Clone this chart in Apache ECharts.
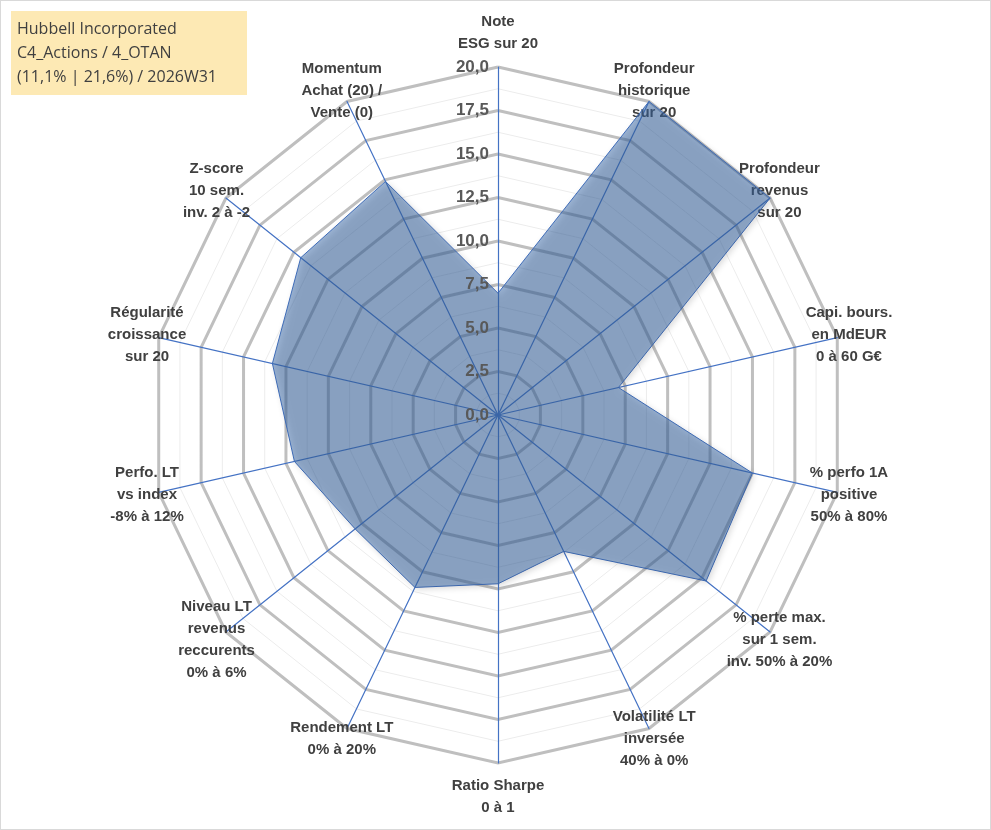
<!DOCTYPE html>
<html>
<head>
<meta charset="utf-8">
<script src="https://cdn.jsdelivr.net/npm/echarts@6/dist/echarts.min.js"></script>
<style>
  html, body { margin: 0; padding: 0; background: #fff; }
  #main { width: 989px; height: 828px; border: 1px solid #d9d9d9; }
</style>
</head>
<body>
<div id="main"></div>
<script>
// libellés des axes (sens horaire depuis le haut)
const axes = [
  'Note\nESG sur 20',
  'Profondeur\nhistorique\nsur 20',
  'Profondeur\nrevenus\nsur 20',
  'Capi. bours.\nen MdEUR\n0 à 60 G€',
  '% perfo 1A\npositive\n50% à 80%',
  '% perte max.\nsur 1 sem.\ninv. 50% à 20%',
  'Volatilité LT\ninversée\n40% à 0%',
  'Ratio Sharpe\n0 à 1',
  'Rendement LT\n0% à 20%',
  'Niveau LT\nrevenus\nreccurents\n0% à 6%',
  'Perfo. LT\nvs index\n-8% à 12%',
  'Régularité\ncroissance\nsur 20',
  'Z-score\n10 sem.\ninv. 2 à -2',
  'Momentum\nAchat (20) /\nVente (0)'
]
// notes
const scores = [7, 20, 20, 7.1, 15, 15.3, 8.7, 9.7, 11, 10.5, 12, 13.3, 14.5, 14.9]
const maxScore = 20
const tickStep = 2.5

const cx = 497, cy = 414, R = 348

// ECharts tourne dans le sens anti-horaire : on inverse l'ordre après le premier axe
const cw = arr => [arr[0]].concat(arr.slice(1).reverse())

var myChart = echarts.init(document.getElementById('main'))
var option = {
  animation: false,
  graphic: [{
    type: 'group', left: 10, top: 10,
    children: [
      { type: 'rect', shape: { x: 0, y: 0, width: 236, height: 84 }, style: { fill: '#fde9b4' } },
      { type: 'text', style: { x: 6, y: 6, text: 'Hubbell Incorporated\nC4_Actions / 4_OTAN\n(11,1% | 21,6%) / 2026W31',
        font: '16px "Open Sans", sans-serif', fill: '#404040', lineHeight: 24 } }
    ]
  }],
  // axe des graduations le long de la branche "Note"
  grid: { left: cx - 1, width: 1, top: cy - R, height: R },
  xAxis: { type: 'value', show: false },
  yAxis: {
    type: 'value', min: 0, max: maxScore, interval: tickStep, z: 5,
    axisLine: { show: false }, axisTick: { show: false }, splitLine: { show: false },
    axisLabel: { margin: 8, color: '#595959', fontSize: 17, fontWeight: 'bold', fontFamily: 'Liberation Sans',
      formatter: v => v.toFixed(1).replace('.', ',') }
  },
  radar: [{
    center: [cx, cy], radius: R, startAngle: 90, shape: 'polygon', splitNumber: 16,
    indicator: axes.map(n => ({ name: '', max: maxScore })),
    axisName: { show: false },
    axisLine: { show: false },
    splitLine: { lineStyle: { color: '#ececec', width: 1 } },
    splitArea: { show: false }
  }, {
    center: [cx, cy], radius: R, startAngle: 90, shape: 'polygon', splitNumber: 8,
    indicator: cw(axes).map(n => ({ name: n, max: maxScore })),
    nameGap: 12,
    axisName: { color: '#404040', fontSize: 15, fontWeight: 'bold', fontFamily: 'Liberation Sans', lineHeight: 22, align: 'center' },
    axisLine: { lineStyle: { color: '#4472c4', width: 1.2 } },
    splitLine: { lineStyle: { color: '#bfbfbf', width: 3 } },
    splitArea: { show: false }
  }],
  series: [{
    type: 'radar', radarIndex: 1, z: 1, symbol: 'none',
    lineStyle: { color: '#4472c4', width: 1 },
    areaStyle: { color: 'rgba(58,104,168,0.72)', shadowColor: 'rgba(0,0,0,0.3)', shadowBlur: 6, shadowOffsetX: 2, shadowOffsetY: 2 },
    data: [{ value: cw(scores) }]
  }]
}
myChart.setOption(option)
</script>
</body>
</html>
